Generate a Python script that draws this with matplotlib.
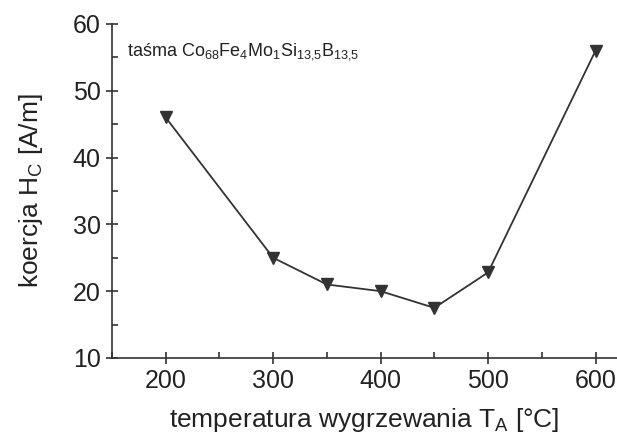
import matplotlib
matplotlib.use('Agg')
import matplotlib.pyplot as plt
from matplotlib.ticker import MultipleLocator

plt.rcParams['font.family'] = ['Liberation Sans', 'DejaVu Sans']
plt.rcParams['mathtext.default'] = 'regular'

# dane: temperatura wygrzewania i koercja
temperatura = [200, 300, 350, 400, 450, 500, 600]
koercja = [46, 25, 21, 20, 17.5, 22.8, 56]

kolor = '#333333'

fig = plt.figure(figsize=(6.17, 4.36), dpi=100)
ax = fig.add_axes([0.1815, 0.179, 0.8185, 0.766])

ax.plot(temperatura, koercja, color=kolor, linewidth=1.3, marker='v',
        markersize=9, markerfacecolor=kolor, markeredgecolor=kolor)

ax.set_xlim(150, 620)
ax.set_ylim(10, 60)
ax.xaxis.set_major_locator(MultipleLocator(100))
ax.xaxis.set_minor_locator(MultipleLocator(50))
ax.yaxis.set_major_locator(MultipleLocator(10))
ax.yaxis.set_minor_locator(MultipleLocator(5))

for s in ['top', 'right']:
    ax.spines[s].set_visible(False)
for s in ['left', 'bottom']:
    ax.spines[s].set_color(kolor)
    ax.spines[s].set_linewidth(1.2)

ax.tick_params(which='major', direction='inout', length=8, width=1.2,
               colors=kolor, labelsize=18, pad=4)
ax.tick_params(which='minor', direction='in', length=4, width=1.2, colors=kolor)
for lab in ax.get_xticklabels() + ax.get_yticklabels():
    lab.set_color('#222222')

ax.set_xlabel('temperatura wygrzewania T$_A$ [°C]', fontsize=19, color='#222222', labelpad=9)
ax.set_ylabel('koercja H$_C$ [A/m]', fontsize=19, color='#222222', labelpad=20)

ax.text(0.03, 0.95, 'taśma Co$_{68}$Fe$_4$Mo$_1$Si$_{13{,}5}$B$_{13{,}5}$',
        transform=ax.transAxes, fontsize=13, color='#222222', va='top', ha='left')

fig.savefig('out.png', dpi=100)
